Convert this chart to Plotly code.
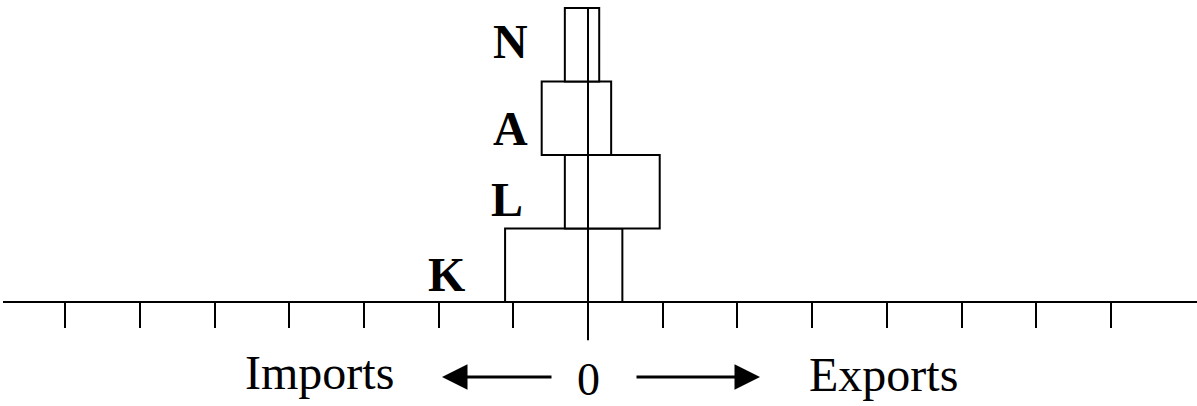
import plotly.graph_objects as go

# ---- data (units = tick intervals; negative side = imports) ----
categories = ["K", "L", "A", "N"]
imports = [1.11, 0.31, 0.62, 0.31]
exports = [0.46, 0.96, 0.31, 0.15]
tick_values = list(range(-7, 8))
axis_labels = ["Imports", "0", "Exports"]

W, H = 1197, 406
FONT = "Liberation Serif"
unit = 74.7

fig = go.Figure()
fig.add_trace(go.Bar(
    orientation="h",
    y=categories,
    base=[-v for v in imports],
    x=[i + e for i, e in zip(imports, exports)],
    width=1.0,
    marker=dict(color="white", line=dict(color="black", width=2)),
    hoverinfo="skip",
    showlegend=False,
))

# zero line through the bars, extending below axis as a longer tick
fig.add_shape(type="line", xref="x", yref="y", x0=0, x1=0, y0=-1.02, y1=3.5,
              line=dict(color="black", width=2), layer="above")

# category letters
label_pos = {"K": (-1.888, -0.13), "L": (-1.084, 0.89), "A": (-1.044, 1.855), "N": (-1.044, 3.05)}
for c in categories:
    lx, ly = label_pos[c]
    fig.add_annotation(x=lx, y=ly, xref="x", yref="y", text=f"<b>{c}</b>", showarrow=False,
                       xanchor="center", yanchor="middle",
                       font=dict(family=FONT, size=48, color="black"))

# bottom texts
fig.add_annotation(x=(319 - 588) / unit, y=(H - 372) / H, xref="x", yref="paper",
                   xanchor="center", yanchor="middle",
                   text=axis_labels[0], showarrow=False, font=dict(family=FONT, size=48, color="black"))
fig.add_annotation(x=0, y=(H - 379) / H, xref="x", yref="paper",
                   xanchor="center", yanchor="middle",
                   text=axis_labels[1], showarrow=False, font=dict(family=FONT, size=46, color="black"))
fig.add_annotation(x=(883 - 588) / unit, y=(H - 374) / H, xref="x", yref="paper",
                   xanchor="center", yanchor="middle",
                   text=axis_labels[2], showarrow=False, font=dict(family=FONT, size=48, color="black"))

# arrows
ay_paper = (H - 377) / H
fig.add_annotation(x=(442 - 588) / unit, y=ay_paper, xref="x", yref="paper",
                   ax=(553 - 588) / unit, ay=0, axref="x", ayref="pixel",
                   text="", showarrow=True, arrowhead=2, arrowsize=1.7, arrowwidth=3, arrowcolor="black")
fig.add_annotation(x=(760 - 588) / unit, y=ay_paper, xref="x", yref="paper",
                   ax=(635 - 588) / unit, ay=0, axref="x", ayref="pixel",
                   text="", showarrow=True, arrowhead=2, arrowsize=1.7, arrowwidth=3, arrowcolor="black")

fig.update_layout(
    width=W, height=H,
    margin=dict(l=0, r=0, t=0, b=0),
    paper_bgcolor="white", plot_bgcolor="white",
    showlegend=False,
    xaxis=dict(
        domain=[3 / W, 1],
        range=[-585 / unit, 609 / unit],
        tickmode="array", tickvals=tick_values,
        ticks="outside", ticklen=25, tickwidth=2, tickcolor="black",
        showticklabels=False, showgrid=False, zeroline=False,
        showline=True, linecolor="black", linewidth=2,
        anchor="free", position=(H - 302) / H,
        fixedrange=True,
    ),
    yaxis=dict(
        range=[-0.5 - 104 / 73.5, -0.5 + 302 / 73.5],
        categoryorder="array", categoryarray=categories,
        showticklabels=False, showgrid=False, zeroline=False, showline=False,
        ticks="", fixedrange=True,
    ),
)

fig.write_html("out.html", config={"displayModeBar": False},
               post_script="document.body.style.margin='0';document.body.style.overflow='hidden';")
